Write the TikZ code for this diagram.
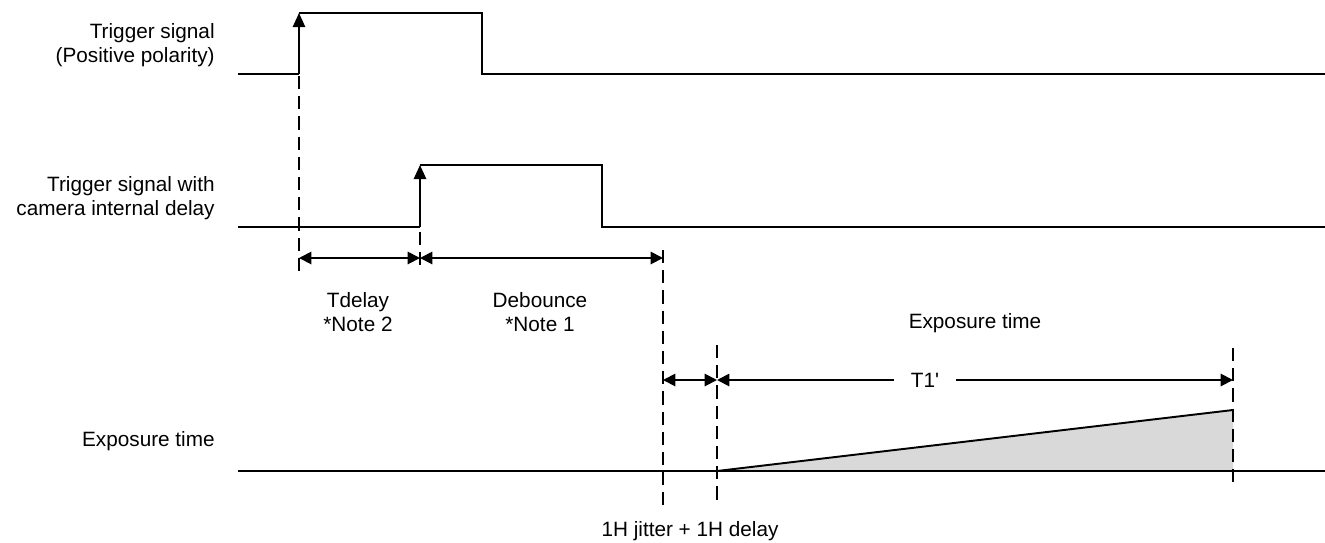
\documentclass[tikz,border=0pt]{standalone}
\usepackage{fontspec}
\setmainfont{Liberation Sans}[Ligatures=Common]
\usetikzlibrary{arrows.meta, positioning}

\begin{document}
\begin{tikzpicture}[
    x=0.02cm, y=-0.02cm,
    font=\fontsize{11.8}{13.6}\selectfont,
    sig/.style={line width=1.1pt},
    guide/.style={line width=1.1pt, dash pattern=on 7.5pt off 4pt},
    dim/.style={{Triangle[length=7pt,width=7pt]}-{Triangle[length=7pt,width=7pt]}, line width=1.1pt},
    edge/.style={-{Triangle[length=8pt,width=7pt]}, line width=1.1pt},
    lbl/.style={align=right, anchor=east, inner sep=0pt},
    txt/.style={align=center, inner sep=0pt}
]
\useasboundingbox (0,0) rectangle (1325,542);

% Labels on the left
\node (l1) [lbl] at (215,45) {Trigger signal\\(Positive polarity)};
\node (l2) [lbl] at (215,198) {Trigger signal with\\camera internal delay};
\node (l3) [lbl] at (215,441) {Exposure time};

% Coordinates
\coordinate (a0) at (238,74);
\coordinate (a1) at (299,74);
\coordinate (a2) at (299,13);
\coordinate (a3) at (482,13);
\coordinate (a4) at (482,74);
\coordinate (a5) at (1325,74);
\coordinate (b0) at (238,227);
\coordinate (b1) at (420,227);
\coordinate (b2) at (420,165);
\coordinate (b3) at (602,165);
\coordinate (b4) at (602,227);
\coordinate (b5) at (1325,227);
\coordinate (e0) at (238,471);
\coordinate (e1) at (717,471);
\coordinate (e2) at (1233,410);
\coordinate (e3) at (1233,471);
\coordinate (e4) at (1325,471);

% Signals
\draw [sig] (a0) -- (a1) (a2) -- (a3) -- (a4) -- (a5);
\draw [edge] (a1) -- (a2);
\draw [sig] (b0) -- (b1) (b2) -- (b3) -- (b4) -- (b5);
\draw [edge] (b1) -- (b2);
\fill [gray!30] (e1) -- (e2) -- (e3) -- cycle;
\draw [sig] (e0) -- (e4);
\draw [sig] (e1) -- (e2);

% Guides
\coordinate (g1t) at (299,76);
\coordinate (g1b) at (299,272);
\coordinate (g2t) at (420,232);
\coordinate (g2b) at (420,272);
\coordinate (g3t) at (663,250);
\coordinate (g3b) at (663,505);
\coordinate (g4t) at (717,345);
\coordinate (g4b) at (717,505);
\coordinate (g5t) at (1233,348);
\coordinate (g5b) at (1233,487);
\draw [guide] (g1t) -- (g1b);
\draw [guide] (g2t) -- (g2b);
\draw [guide] (g3t) -- (g3b);
\draw [guide] (g4t) -- (g4b);
\draw [guide] (g5t) -- (g5b);

% Dimensions
\coordinate (d1) at (299,258);
\coordinate (d2) at (420,258);
\coordinate (d3) at (663,258);
\coordinate (d4) at (663,380);
\coordinate (d5) at (717,380);
\coordinate (d6) at (1233,380);
\draw [dim] (d1) -- (d2);
\draw [dim] (d2) -- (d3);
\draw [dim] (d4) -- (d5);
\draw [dim] (d5) -- (d6);
\node (t1) [txt, fill=white, inner xsep=9.5pt, inner ysep=2pt] at (925,380) {T1\textquotesingle};

% Texts
\node (tdelay) [txt] at (358,312) {Tdelay\\*Note 2};
\node (deb) [txt] at (540,312) {Debounce\\*Note 1};
\node (exp) [txt] at (975,323) {Exposure time};
\node (jit) [txt] at (690,531) {1H jitter + 1H delay};
\end{tikzpicture}
\end{document}
